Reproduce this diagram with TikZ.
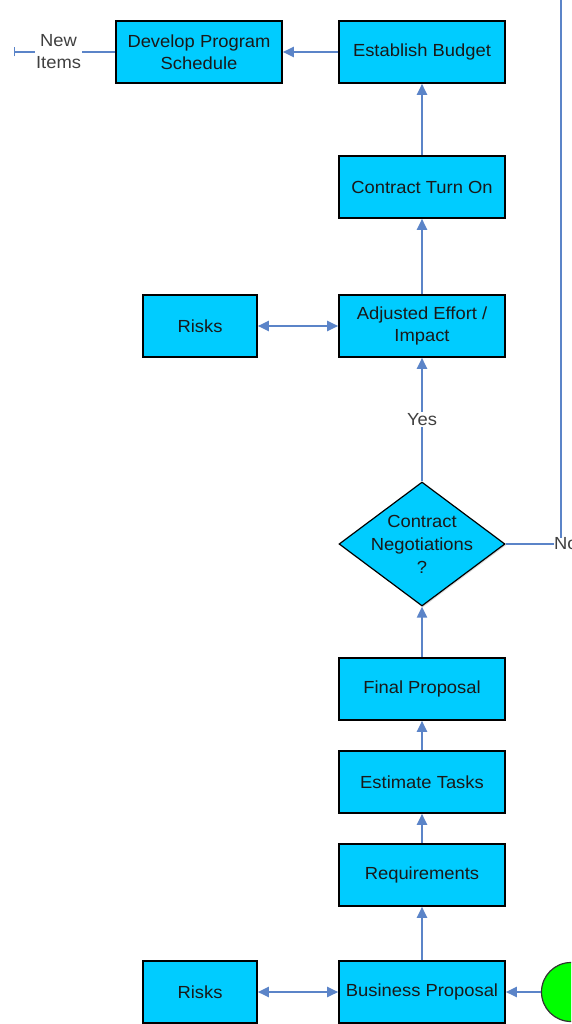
\documentclass[tikz,border=0pt]{standalone}
\usepackage{fontspec}
\setmainfont{Liberation Sans}[FakeStretch=1.05]
\usetikzlibrary{shapes.geometric, arrows.meta, positioning, shadows}
\definecolor{boxcyan}{HTML}{00CCFF}
\definecolor{flowblue}{HTML}{5B84C8}
\definecolor{startgreen}{HTML}{00FF00}
\begin{document}
\begin{tikzpicture}[
        x=1pt, y=-1pt,
        node distance=29.4pt and 55.4pt,
        box/.style={rectangle, draw=black, line width=1.6pt, fill=boxcyan, minimum width=166pt, minimum height=62pt, align=center, text=black!90, font=\fontsize{17.5}{22}\selectfont, drop shadow={shadow xshift=1.2pt, shadow yshift=-1.2pt, opacity=0.3}},
        smallbox/.style={box, minimum width=114pt},
        decision/.style={diamond, draw=black, line width=1.2pt, fill=boxcyan, minimum width=166pt, minimum height=124pt, inner sep=-14pt, align=center, text=black!90, font=\fontsize{17.5}{23}\selectfont, drop shadow={shadow xshift=1.2pt, shadow yshift=-1.2pt, opacity=0.3}},
        arrow/.style={-{Triangle[length=11pt, width=10pt]}, line width=2pt, draw=flowblue},
        twoway/.style={{Triangle[length=11pt, width=10pt]}-{Triangle[length=11pt, width=10pt]}, line width=2pt, draw=flowblue},
        line/.style={line width=2pt, draw=flowblue},
        lbl/.style={fill=white, text=black!75, align=center, inner sep=1pt, font=\fontsize{17.5}{22}\selectfont}
    ]
    \clip (0,0) rectangle (571,1024);

    \node (prop) [box] at (422,992) {Business Proposal};
    \node (req) [box, above=53.4pt of prop] {Requirements};
    \node (est) [box, above=of req] {Estimate Tasks};
    \node (final) [box, above=of est] {Final Proposal};
    \node (neg) [decision, above=50.6pt of final] {Contract\\Negotiations\\?};
    \node (adj) [box, above=123.6pt of neg] {Adjusted Effort /\\Impact};
    \node (turnon) [box, above=75.4pt of adj] {Contract Turn On};
    \node (budget) [box, above=71.4pt of turnon] {Establish Budget};
    \node (dev) [box, left=of budget] {Develop Program\\Schedule};
    \node (risktop) [smallbox, left=80.4pt of adj] {Risks};
    \node (riskbot) [smallbox, left=80.4pt of prop] {Risks};
    \node (start) [circle, draw=black!80, line width=1.2pt, fill=startgreen, minimum size=59pt] at (571,992) {};
    \node (no) [lbl, anchor=west, inner sep=0pt] at (554,544) {No};
    \coordinate (itemsend) at (14,52);
    \coordinate (notop) at (561,-10);

    \draw [arrow] (start) -- (prop);
    \draw [arrow] (prop) -- (req);
    \draw [arrow] (req) -- (est);
    \draw [arrow] (est) -- (final);
    \draw [arrow] (final) -- (neg);
    \draw [arrow] (neg) -- node [lbl] {Yes} (adj);
    \draw [arrow] (adj) -- (turnon);
    \draw [arrow] (turnon) -- (budget);
    \draw [arrow] (budget) -- (dev);
    \draw [twoway] (risktop) -- (adj);
    \draw [twoway] (riskbot) -- (prop);
    \draw [line, {Bar[width=9pt, line width=1.2pt]}-] (itemsend) -- node [lbl, pos=0.44] {New\\Items} (dev);
    \draw [line] (neg) -- (no);
    \draw [line] ([xshift=7pt]no.north west) -- (notop);
    \end{tikzpicture}
\end{document}
